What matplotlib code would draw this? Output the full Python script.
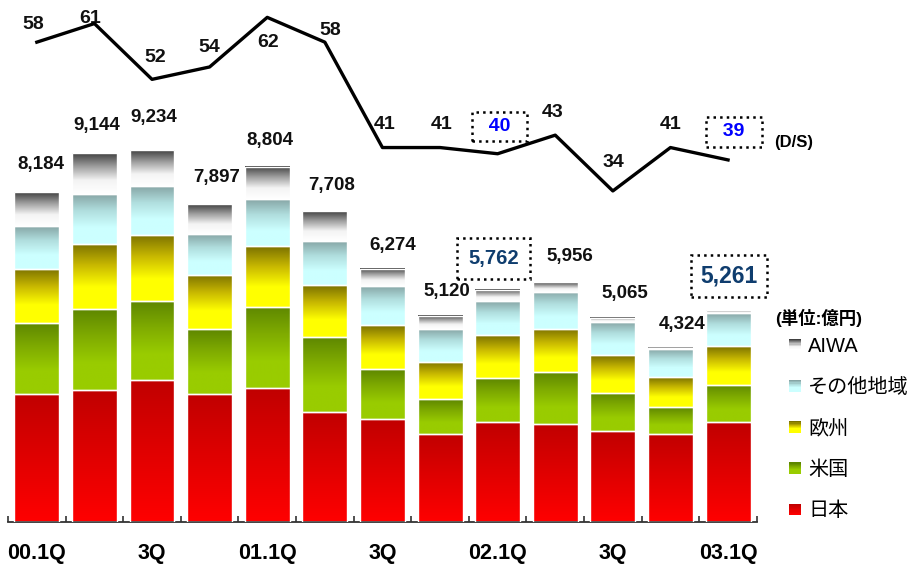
import numpy as np
import matplotlib.pyplot as plt
from matplotlib.colors import LinearSegmentedColormap
from matplotlib.legend_handler import HandlerBase
from matplotlib.patches import Rectangle, Patch

plt.rcParams['font.family'] = ['Liberation Sans', 'Noto Sans CJK JP', 'DejaVu Sans']

# ---- data (億円) ----
quarters = ['00.1Q', '00.2Q', '00.3Q', '00.4Q', '01.1Q', '01.2Q', '01.3Q',
            '01.4Q', '02.1Q', '02.2Q', '02.3Q', '02.4Q', '03.1Q']
tick_labels = ['00.1Q', '', '3Q', '', '01.1Q', '', '3Q', '', '02.1Q', '', '3Q', '', '03.1Q']
japan = [3167, 3273, 3530, 3177, 3316, 2731, 2562, 2193, 2473, 2433, 2245, 2185, 2474]
us = [1761, 2001, 1942, 1602, 2024, 1860, 1233, 851, 1090, 1283, 962, 666, 935]
europe = [1347, 1620, 1654, 1357, 1505, 1282, 1091, 935, 1066, 1074, 935, 744, 967]
other = [1066, 1233, 1215, 1017, 1166, 1091, 967, 801, 843, 918, 811, 687, 811]
aiwa = [843, 1017, 893, 744, 794, 744, 422, 340, 290, 248, 112, 42, 74]
totals = [8184, 9144, 9234, 7897, 8804, 7708, 6274, 5120, 5762, 5956, 5065, 4324, 5261]
ds = [58, 61, 52, 54, 62, 58, 41, 41, 40, 43, 34, 41, 39]
highlight = [8, 12]

series = [('日本', japan), ('米国', us), ('欧州', europe),
          ('その他地域', other), ('AIWA', aiwa)]

# gradient colours, top -> bottom
grads = {
    '日本': ['#c00000', '#e00000', '#ff0000'],
    '米国': ['#5e8700', '#7fab00', '#99cc00', '#99cc00'],
    '欧州': ['#7a7000', '#c8b800', '#ffff00', '#ffff00'],
    'その他地域': ['#86a5a5', '#b0dede', '#ccffff', '#ccffff'],
    'AIWA': ['#404040', '#a0a0a0', '#f4f4f4', '#ffffff'],
}
cmaps = {k: LinearSegmentedColormap.from_list(k, v) for k, v in grads.items()}

# label offsets in pixels (style only)
total_off = [(4, 28), (2, 28), (2, 32), (7, 26), (3, 27), (7, 26), (10, 24),
             (7, 24), (-4, 31), (15, 25), (12, 24), (12, 23), (1, 34)]
ds_off = [(-4, 18), (-4, 5), (3, 22), (0, 19), (1, -25), (5, 12), (2, 23),
          (2, 23), (2, 27), (-3, 23), (1, 28), (0, 23), (6, 28)]

fig = plt.figure(figsize=(9.11, 5.64), dpi=100)
ax = fig.add_axes([0.0088, 0.0745, 0.822, 0.9255])
x = np.arange(len(quarters))
width = 0.78
grad_img = np.linspace(0, 1, 256).reshape(-1, 1)

bottom = np.zeros(len(x))
for name, vals in series:
    bars = ax.bar(x, vals, width, bottom=bottom, facecolor='none',
                  edgecolor='white', linewidth=1.0, zorder=3)
    for b in bars:
        x0, y0 = b.get_x(), b.get_y()
        ax.imshow(grad_img, cmap=cmaps[name], aspect='auto', origin='upper',
                  extent=(x0, x0 + b.get_width(), y0, y0 + b.get_height()),
                  zorder=2, interpolation='bilinear')
    bottom += np.array(vals)

for i, t in enumerate(totals):
    if i == 12:
        ax.annotate(f'{t:,}', (x[i], bottom[i]), xytext=total_off[i], textcoords='offset pixels',
                    ha='center', va='center', fontsize=16.5, fontweight='bold', color='#0f3d6e',
                    bbox=dict(boxstyle='square,pad=0.4', fc='white', ec='black', ls=':', lw=1.8))
    elif i == 8:
        ax.annotate(f'{t:,}', (x[i], bottom[i]), xytext=total_off[i], textcoords='offset pixels',
                    ha='center', va='center', fontsize=14.5, fontweight='bold', color='#0f3d6e',
                    bbox=dict(boxstyle='square,pad=0.55', fc='white', ec='black', ls=':', lw=1.8))
    else:
        ax.annotate(f'{t:,}', (x[i], bottom[i]), xytext=total_off[i], textcoords='offset pixels',
                    ha='center', va='center', fontsize=13.5, fontweight='bold', color='#111111')

ax.set_xlim(-0.5, 12.5)
ax.set_ylim(0, 12950)
for s in ['top', 'left', 'right']:
    ax.spines[s].set_visible(False)
ax.spines['bottom'].set_color('#333333')
ax.spines['bottom'].set_linewidth(1.3)
ax.set_yticks([])
ax.set_xticks(x)
ax.set_xticklabels(tick_labels, fontsize=15.5, fontweight='bold')
ax.tick_params(axis='x', which='major', length=0, pad=15)
ax.set_xticks(np.arange(-0.5, 13, 1), minor=True)
ax.tick_params(axis='x', which='minor', direction='in', length=4, width=1.2, color='#333333')

# D/S line
ax2 = ax.twinx()
ax2.set_ylim(-19.4, 64.8)
ax2.plot(x, ds, color='black', lw=2.4, zorder=5)
ax2.axis('off')
for i, v in enumerate(ds):
    if i in highlight:
        ax2.annotate(f'  {v}  ', (x[i], v), xytext=ds_off[i], textcoords='offset pixels',
                     ha='center', va='center', fontsize=14, fontweight='bold', color='#0000ff',
                     bbox=dict(boxstyle='square,pad=0.32', fc='white', ec='black', ls=':', lw=1.8))
    else:
        ax2.annotate(str(v), (x[i], v), xytext=ds_off[i], textcoords='offset pixels',
                     ha='center', va='center', fontsize=14, fontweight='bold', color='#111111')
fig.text(0.871, 0.748, '(D/S)', fontsize=12, fontweight='bold', ha='center', va='center')


# legend with gradient swatches
class GradHandler(HandlerBase):
    def create_artists(self, legend, orig_handle, xdescent, ydescent, width, height, fontsize, trans):
        cm = cmaps[orig_handle.get_label()]
        n = 10
        arts = []
        for k in range(n):
            arts.append(Rectangle((-xdescent, -ydescent + height * (1 - (k + 1) / n)), width, height / n,
                                  facecolor=cm(k / (n - 1)), edgecolor='none', transform=trans))
        return arts


fig.text(0.851, 0.436, '(単位:億円)', fontsize=12.5, fontweight='bold', ha='left', va='center')
handles = [Patch(label=name) for name, _ in series[::-1]]
leg = fig.legend(handles=handles, loc='upper left', bbox_to_anchor=(0.8617, 0.410),
                 frameon=False, fontsize=14.5,
                 handler_map={Patch: GradHandler()}, handlelength=0.6, handleheight=0.5,
                 handletextpad=0.35, labelspacing=1.1, borderpad=0.2, borderaxespad=0)

fig.savefig('out.png', dpi=100)
